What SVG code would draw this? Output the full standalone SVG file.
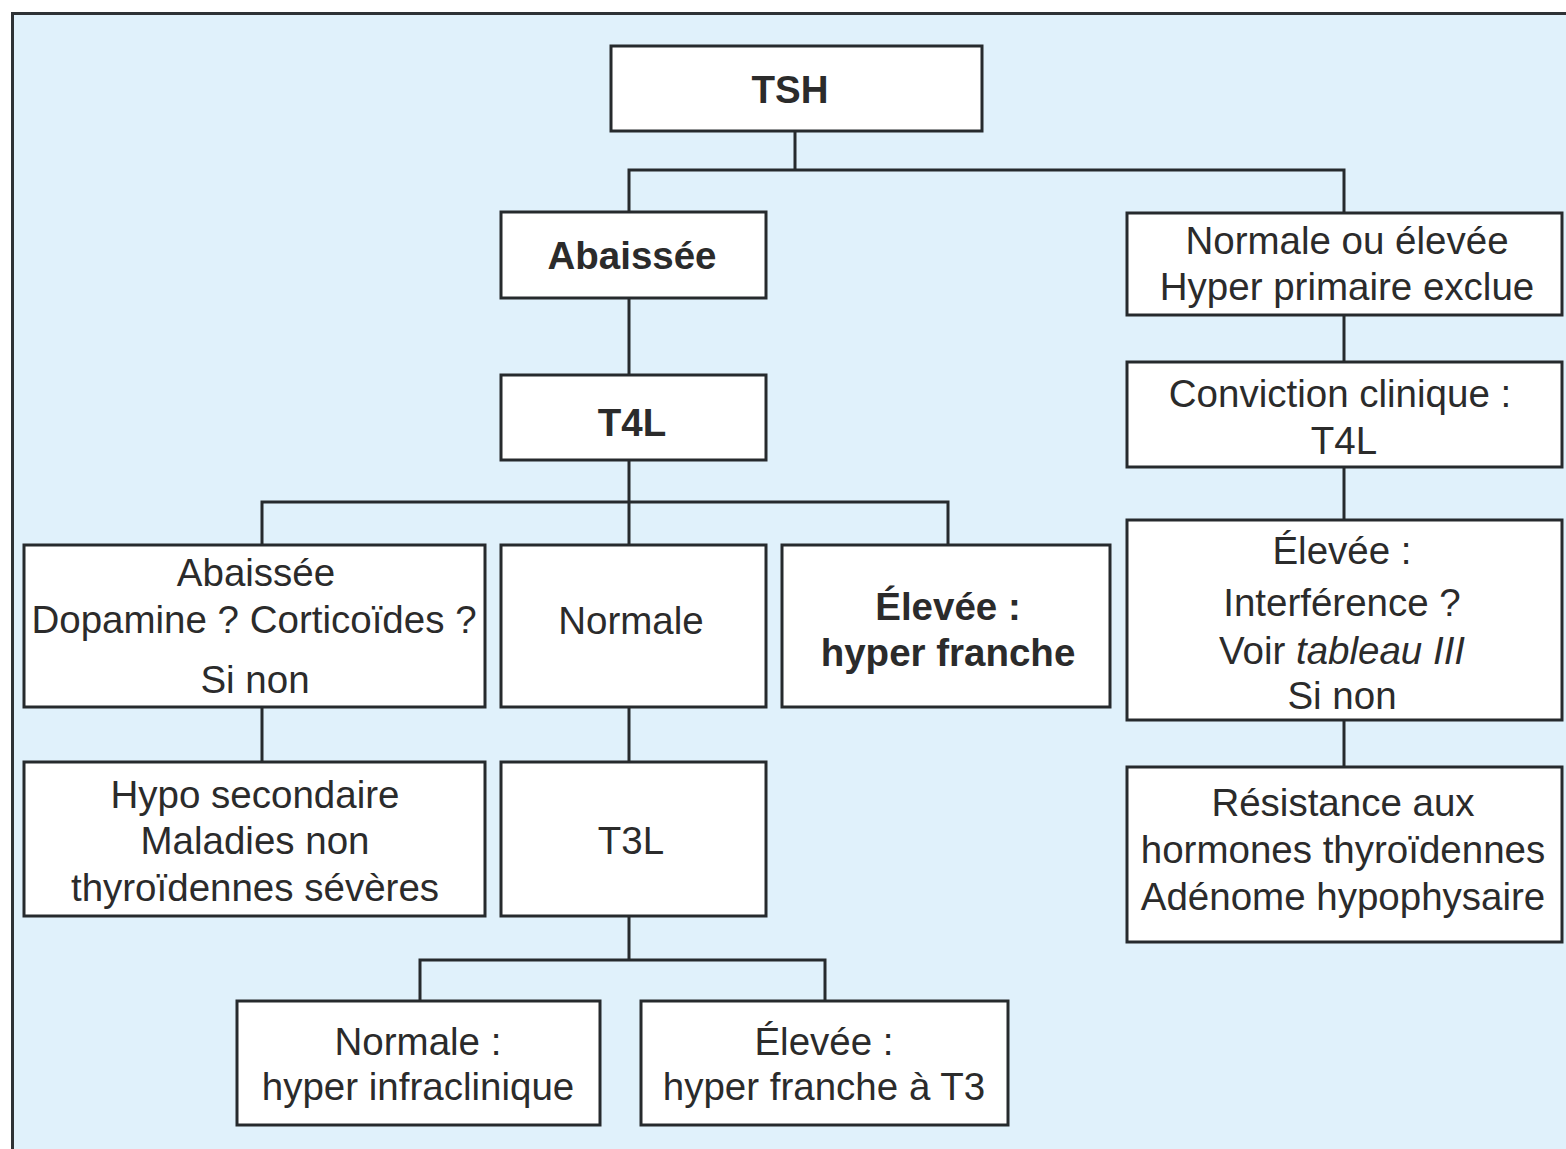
<svg xmlns="http://www.w3.org/2000/svg" width="1566" height="1149" viewBox="0 0 1566 1149">
  <style>
    .box { fill: #ffffff; stroke: #262a2d; stroke-width: 3; }
    .wire { fill: none; stroke: #262a2d; stroke-width: 3; stroke-linecap: square; }
    text { font-family: "Liberation Sans", Arial, sans-serif; font-size: 38.5px; fill: #2b2b2b; text-anchor: middle; }
    .b { font-weight: bold; }
    .i { font-style: italic; }
  </style>

  <!-- page and framed panel -->
  <rect x="0" y="0" width="1566" height="1149" fill="#ffffff"/>
  <rect x="12.5" y="13.5" width="1600" height="1200" fill="#e0f1fb" stroke="#2e3235" stroke-width="3"/>

  <!-- connectors -->
  <g id="connectors">
    <path class="wire" d="M795 131 V170 M629 170 H1344 M629 170 V212 M1344 170 V213"/>
    <path class="wire" d="M629 298 V375"/>
    <path class="wire" d="M629 460 V502 M262 502 H948 M262 502 V545 M629 502 V545 M948 502 V545"/>
    <path class="wire" d="M262 707 V762"/>
    <path class="wire" d="M629 707 V762"/>
    <path class="wire" d="M629 916 V960 M420 960 H825 M420 960 V1001 M825 960 V1001"/>
    <path class="wire" d="M1344 315 V362"/>
    <path class="wire" d="M1344 467 V520"/>
    <path class="wire" d="M1344 720 V767"/>
  </g>

  <!-- nodes -->
  <g id="tsh">
    <rect class="box" x="611" y="46" width="371" height="85"/>
    <text class="b" x="790" y="103">TSH</text>
  </g>

  <g id="abaissee">
    <rect class="box" x="501" y="212" width="265" height="86"/>
    <text class="b" x="632" y="269">Abaissée</text>
  </g>

  <g id="t4l">
    <rect class="box" x="501" y="375" width="265" height="85"/>
    <text class="b" x="632" y="436">T4L</text>
  </g>

  <g id="normale-ou-elevee">
    <rect class="box" x="1127" y="213" width="435" height="102"/>
    <text x="1347" y="254">Normale ou élevée</text>
    <text x="1347" y="300">Hyper primaire exclue</text>
  </g>

  <g id="conviction">
    <rect class="box" x="1127" y="362" width="435" height="105"/>
    <text x="1340" y="407">Conviction clinique :</text>
    <text x="1344" y="454">T4L</text>
  </g>

  <g id="t4l-abaissee">
    <rect class="box" x="24" y="545" width="461" height="162"/>
    <text x="256" y="586">Abaissée</text>
    <text x="254" y="633">Dopamine ? Corticoïdes ?</text>
    <text x="255" y="693">Si non</text>
  </g>

  <g id="t4l-normale">
    <rect class="box" x="501" y="545" width="265" height="162"/>
    <text x="631" y="634">Normale</text>
  </g>

  <g id="t4l-elevee">
    <rect class="box" x="782" y="545" width="328" height="162"/>
    <text class="b" x="948" y="620">Élevée :</text>
    <text class="b" x="948" y="666">hyper franche</text>
  </g>

  <g id="elevee-interference">
    <rect class="box" x="1127" y="520" width="435" height="200"/>
    <text x="1342" y="564">Élevée :</text>
    <text x="1342" y="616">Interférence ?</text>
    <text x="1342" y="664">Voir <tspan class="i">tableau III</tspan></text>
    <text x="1342" y="709">Si non</text>
  </g>

  <g id="hypo-secondaire">
    <rect class="box" x="24" y="762" width="461" height="154"/>
    <text x="255" y="808">Hypo secondaire</text>
    <text x="255" y="854">Maladies non</text>
    <text x="255" y="901">thyroïdennes sévères</text>
  </g>

  <g id="t3l">
    <rect class="box" x="501" y="762" width="265" height="154"/>
    <text x="631" y="854">T3L</text>
  </g>

  <g id="resistance">
    <rect class="box" x="1127" y="767" width="435" height="175"/>
    <text x="1343" y="816">Résistance aux</text>
    <text x="1343" y="863">hormones thyroïdennes</text>
    <text x="1343" y="910">Adénome hypophysaire</text>
  </g>

  <g id="t3l-normale">
    <rect class="box" x="237" y="1001" width="363" height="124"/>
    <text x="418" y="1055">Normale :</text>
    <text x="418" y="1100">hyper infraclinique</text>
  </g>

  <g id="t3l-elevee">
    <rect class="box" x="641" y="1001" width="367" height="124"/>
    <text x="824" y="1055">Élevée :</text>
    <text x="824" y="1100">hyper franche à T3</text>
  </g>
</svg>
